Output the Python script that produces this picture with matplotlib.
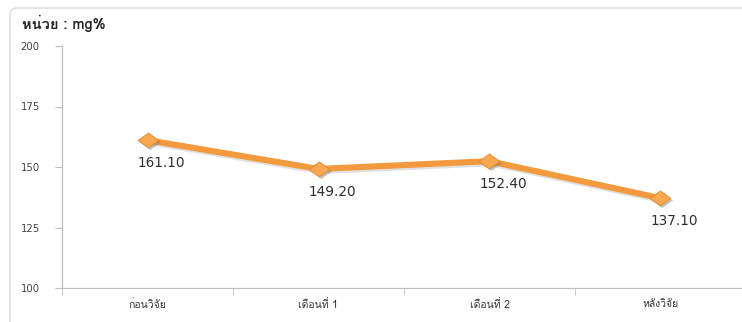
import matplotlib
matplotlib.use('Agg')
import numpy as np
from matplotlib import pyplot as plt
from matplotlib import patheffects as pe
from matplotlib import transforms
from matplotlib.patches import FancyBboxPatch

plt.rcParams['font.family'] = ['Loma', 'DejaVu Sans']

# mean values per measuring period (mg%)
periods = ['ก่อนวิจัย', 'เดือนที่ 1', 'เดือนที่ 2', 'หลังวิจัย']
values = [161.10, 149.20, 152.40, 137.10]
y_ticks = [100, 125, 150, 175, 200]
unit_label = 'หน่วย : mg%'

W, H = 742, 322
fig = plt.figure(figsize=(W / 100, H / 100), dpi=100)

# rounded chart frame in pixel units, running off the right and bottom edges
frame = FancyBboxPatch((10, -20), 760, H - 8 + 20,
                       boxstyle='round,pad=0,rounding_size=7',
                       transform=transforms.IdentityTransform(), facecolor='white',
                       edgecolor='#d9d9d9', linewidth=1.0, zorder=-1)
fig.patches.append(frame)

ax = fig.add_axes([62 / W, 1 - 288 / H, 684 / W, (288 - 46) / H])
ax.set_facecolor('none')

x = np.arange(len(periods))
orange = '#f39a3e'
diamond = [(-1, 0), (0, 0.72), (1, 0), (0, -0.72), (-1, 0)]
ax.plot(x, values, color=orange, linewidth=4.4, solid_capstyle='round', zorder=3,
        path_effects=[pe.SimpleLineShadow(offset=(1, -1.5), shadow_color='#999999', alpha=0.3), pe.Normal()])

# marker drop shadow, then the markers on top
shadow_tr = transforms.offset_copy(ax.transData, fig=fig, x=2, y=-2, units='dots')
ax.plot(x, values, linestyle='none', marker=diamond, markersize=15, color='#7a7a7a',
        alpha=0.45, markeredgewidth=0, zorder=3.5, transform=shadow_tr)
ax.plot(x, values, linestyle='none', marker=diamond, markersize=15, color='#f8a850',
        markeredgecolor='#e3882a', markeredgewidth=0.6, zorder=4)

for xi, v in zip(x, values):
    ax.annotate(f'{v:.2f}', (xi, v), xytext=(14, -23), textcoords='offset pixels',
                ha='center', va='center', fontsize=9.8, color='#2e2e2e',
                family='DejaVu Sans')

ax.set_xlim(-0.5, len(periods) - 0.5)
ax.set_ylim(100, 200)
ax.set_yticks(y_ticks)
ax.set_yticklabels([str(t) for t in y_ticks], fontsize=7.3, color='#444444',
                   family='DejaVu Sans')
ax.set_xticks(x)
ax.set_xticklabels(periods, fontsize=7.5, color='#333333')
ax.set_xticks(np.arange(-0.5, len(periods), 1.0), minor=True)
ax.tick_params(axis='x', which='major', length=0, pad=8)
ax.tick_params(axis='x', which='minor', length=5, color='#bfbfbf', direction='out')
ax.tick_params(axis='y', length=5, color='#bfbfbf', direction='out', pad=11)

for side in ['top', 'right']:
    ax.spines[side].set_visible(False)
for side in ['left', 'bottom']:
    ax.spines[side].set_color('#bfbfbf')
    ax.spines[side].set_linewidth(0.9)

fig.text(22 / W, 1 - 23 / H, unit_label, fontsize=10.5, fontweight='bold',
         color='#222222', ha='left', va='center')

fig.savefig('out.png', dpi=100)
